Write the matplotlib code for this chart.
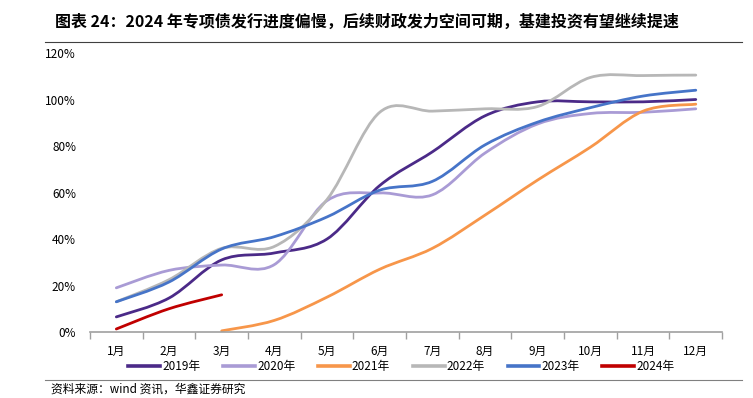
import matplotlib
matplotlib.use('Agg')

import matplotlib.pyplot as plt
from matplotlib.path import Path
from matplotlib.patches import PathPatch
from matplotlib.lines import Line2D
import numpy as np

plt.rcParams['font.family'] = ['Noto Sans CJK SC', 'DejaVu Sans']

months = ['1月', '2月', '3月', '4月', '5月', '6月', '7月', '8月', '9月', '10月', '11月', '12月']
years = ['2019年', '2020年', '2021年', '2022年', '2023年', '2024年']

# issuance progress, share of annual quota (%), None = no data
y2019 = [6.5, 14.6, 31.0, 34.0, 40.0, 63.0, 77.5, 93.0, 99.0, 99.0, 99.0, 100.0]
y2020 = [19.0, 26.5, 28.8, 29.0, 56.5, 59.8, 59.0, 77.0, 89.5, 94.0, 94.5, 96.0]
y2021 = [None, None, 0.5, 5.0, 15.0, 27.0, 36.0, 50.3, 65.4, 79.5, 95.0, 98.0]
y2022 = [13.0, 22.5, 36.0, 36.8, 57.0, 94.5, 95.0, 96.0, 97.0, 109.5, 110.3, 110.5]
y2023 = [13.0, 21.5, 35.7, 41.0, 49.5, 61.0, 64.8, 80.5, 90.3, 96.5, 101.5, 104.0]
y2024 = [1.3, 10.0, 16.0]

series = [y2019, y2020, y2021, y2022, y2023, y2024]
colors = ['#4B2A88', '#A99BD5', '#F7964A', '#B7B7B7', '#4674C8', '#C00000']


def smooth_path(xs, ys):
    # Catmull-Rom style smoothing, as Excel's smoothed line
    pts = np.column_stack([xs, ys])
    n = len(pts)
    verts = [pts[0]]
    codes = [Path.MOVETO]
    for i in range(n - 1):
        p0 = pts[i - 1] if i > 0 else pts[i]
        p1 = pts[i]
        p2 = pts[i + 1]
        p3 = pts[i + 2] if i + 2 < n else pts[i + 1]
        c1 = p1 + (p2 - p0) / 6.0
        c2 = p2 - (p3 - p1) / 6.0
        verts += [c1, c2, p2]
        codes += [Path.CURVE4] * 3
    return Path(verts, codes)


fig = plt.figure(figsize=(7.53, 3.98), dpi=100)
ax = fig.add_axes([0.1195, 0.1658, 0.8395, 0.701])

for vals, c in zip(series, colors):
    xs = [i for i, v in enumerate(vals) if v is not None]
    ys = [v / 100.0 for v in vals if v is not None]
    patch = PathPatch(smooth_path(xs, ys), fill=False, edgecolor=c, lw=2.0,
                      capstyle='round', joinstyle='round')
    ax.add_patch(patch)

ax.set_xlim(-0.5, 11.5)
ax.set_ylim(0, 1.2)
ax.set_yticks(np.arange(0, 1.21, 0.2))
ax.set_yticklabels(['%d%%' % round(v * 100) for v in np.arange(0, 1.21, 0.2)], fontsize=8.5)
ax.set_xticks(np.arange(-0.5, 11.6, 1), minor=False)
ax.set_xticklabels([])
ax.set_xticks(np.arange(12), minor=True)
ax.set_xticklabels(months, minor=True, fontsize=8.5)
ax.tick_params(axis='x', which='major', length=5, color='#A0A0A0', width=1)
ax.tick_params(axis='x', which='minor', length=0, pad=9)
ax.tick_params(axis='y', length=0, pad=10)
for s in ['top', 'right', 'left']:
    ax.spines[s].set_visible(False)
ax.spines['bottom'].set_color('#A0A0A0')
ax.spines['bottom'].set_linewidth(1.2)

handles = [Line2D([], [], color=c, lw=2.6) for c in colors]
fig.legend(handles, years, loc='center', bbox_to_anchor=(0.533, 0.080), ncol=6,
           frameon=False, fontsize=8.5, handlelength=2.7, handletextpad=0.2,
           columnspacing=1.9)

fig.text(0.073, 0.945, '图表 24：2024 年专项债发行进度偏慢，后续财政发力空间可期，基建投资有望继续提速',
         fontsize=11.5, fontweight='bold', va='center', ha='left')
fig.add_artist(Line2D([0.06, 0.985], [0.895, 0.895], color='#404040', lw=0.8))
fig.add_artist(Line2D([0.06, 0.985], [0.045, 0.045], color='#808080', lw=0.8))
fig.text(0.068, 0.022, '资料来源：wind 资讯，华鑫证券研究', fontsize=8.5, va='center', ha='left')

fig.savefig('out.png', dpi=100)
plt.close(fig)
